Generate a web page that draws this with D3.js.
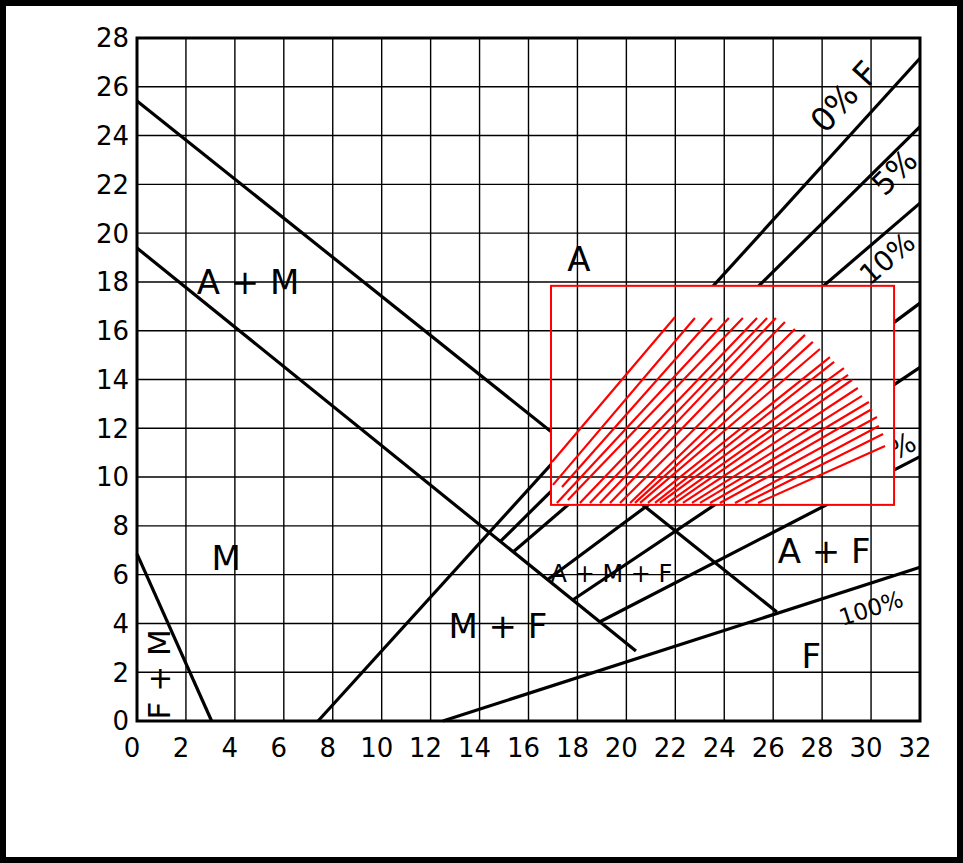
<!DOCTYPE html>
<html><head><meta charset="utf-8">
<script src="https://cdn.jsdelivr.net/npm/d3@7"></script>
<style>html,body{margin:0;padding:0;background:#fff;} svg{display:block;}</style>
</head><body>
<svg id="chart" width="963" height="863"></svg>
<script>
// ---- data ----
const xTicks = [0,2,4,6,8,10,12,14,16,18,20,22,24,26,28,30,32];
const yTicks = [0,2,4,6,8,10,12,14,16,18,20,22,24,26,28];

const lineNames = ["A+M / A upper", "M / M+F", "F+M", "0% F", "5%", "10%", "20%", "40%", "80%", "100%"];
const lineX1 = [0,     0,     0,    7.40, 14.83, 15.37, 16.76, 17.82, 18.92, 12.50];
const lineY1 = [25.42, 19.39, 6.85, 0,    7.34,  6.93,  5.78,  4.97,  4.07,  0];
const lineX2 = [26.15, 20.39, 3.05, 32,   32,    32,    32,    32,    32,    32];
const lineY2 = [4.47,  2.87,  0,    27.17,24.37, 21.23, 17.13, 14.50, 10.84, 6.30];

const regionText = ["A + M", "A", "M", "M + F", "A + M + F", "A + F", "F", "F + M"];
const regionX    = [4.54,  18.06, 3.64, 14.75, 19.39, 28.08, 27.56, 1.35];
const regionY    = [17.51, 18.45, 6.19, 3.40,  5.70,  6.48,  2.17,  1.91];

const pctText = ["0% F", "5%", "10%", "80%", "100%"];
const pctLine = [3, 4, 5, 8, 9];
const pctX    = [28.89, 30.94, 30.65, 30.61, 30.00];
const pctY    = [25.60, 22.51, 18.98, 10.95, 4.63];

const boxX = [16.92, 30.94];
const boxY = [8.86, 17.84];

const hatchX1 = [16.96,17.00,17.37,17.16,17.61,18.10,18.51,18.92,19.33,19.74,20.15,20.35,20.56,20.88,21.17,21.37,21.70,21.99,22.31,22.68,23.01,23.42,23.82,24.44,24.85,25.38];
const hatchY1 = [10.62,9.68,9.59,8.94,9.06,8.94,8.94,8.94,8.94,8.94,8.94,8.94,8.94,8.94,8.94,8.94,8.94,8.94,8.94,8.94,8.94,8.94,8.94,8.94,8.94,8.94];
const hatchX2 = [21.99,22.80,23.50,24.19,24.76,25.34,25.75,26.11,26.48,26.89,27.30,27.62,27.91,28.32,28.49,28.89,29.06,29.22,29.46,29.63,29.91,30.04,30.24,30.32,30.49,30.57];
const hatchY2 = [16.56,16.52,16.52,16.52,16.52,16.52,16.52,16.52,16.36,16.07,15.83,15.54,15.25,14.92,14.72,14.47,14.19,13.98,13.65,13.33,13.08,12.79,12.46,12.09,11.77,11.27];

// ---- layout ----
const W = 963, H = 863;
const x = d3.scaleLinear().domain([0, 32]).range([137, 920]);
const y = d3.scaleLinear().domain([0, 28]).range([721, 38]);
const FONT = "DejaVu Sans, Verdana, sans-serif";

const svg = d3.select("#chart");
svg.append("rect").attr("x",0).attr("y",0).attr("width",W).attr("height",H).attr("fill","#fff");

function drawGrid(g) {
  g.selectAll("line.v").data(xTicks).join("line").attr("class","v")
    .attr("x1", d => x(d)).attr("x2", d => x(d)).attr("y1", y(0)).attr("y2", y(28))
    .attr("stroke", "#000").attr("stroke-width", 1.4);
  g.selectAll("line.h").data(yTicks).join("line").attr("class","h")
    .attr("y1", d => y(d)).attr("y2", d => y(d)).attr("x1", x(0)).attr("x2", x(32))
    .attr("stroke", "#000").attr("stroke-width", 1.4);
}

drawGrid(svg.append("g"));

// boundary lines
const lineIdx = d3.range(lineNames.length);
svg.append("g").selectAll("line").data(lineIdx).join("line")
  .attr("x1", i => x(lineX1[i])).attr("y1", i => y(lineY1[i]))
  .attr("x2", i => x(lineX2[i])).attr("y2", i => y(lineY2[i]))
  .attr("stroke", "#000").attr("stroke-width", 3.2).attr("stroke-linecap", "butt");

// percentage labels
const pctSize = [33, 31, 28, 28, 23];
svg.append("g").selectAll("text").data(d3.range(pctText.length)).join("text")
  .attr("transform", i => {
    const li = pctLine[i];
    const ang = Math.atan2(y(lineY2[li]) - y(lineY1[li]), x(lineX2[li]) - x(lineX1[li])) * 180 / Math.PI;
    return `translate(${x(pctX[i])},${y(pctY[i])}) rotate(${ang})`;
  })
  .attr("text-anchor", "middle").attr("dy", "0.36em")
  .attr("font-family", FONT).attr("font-size", i => pctSize[i]).attr("fill", "#000")
  .text(i => pctText[i]);

// region labels
const regSize = [34, 34, 34, 34, 24, 34, 34, 31];
svg.append("g").selectAll("text").data(d3.range(regionText.length)).join("text")
  .attr("transform", i => `translate(${x(regionX[i])},${y(regionY[i])})` + (regionText[i] === "F + M" ? " rotate(-90)" : ""))
  .attr("text-anchor", "middle")
  .attr("font-family", FONT).attr("font-size", i => regSize[i]).attr("fill", "#000")
  .text(i => regionText[i]);

// red overlay box
const bx = x(boxX[0]), by = y(boxY[1]), bw = x(boxX[1]) - x(boxX[0]), bh = y(boxY[0]) - y(boxY[1]);
svg.append("rect").attr("x", bx).attr("y", by).attr("width", bw).attr("height", bh)
  .attr("fill", "#fff");
svg.append("clipPath").attr("id", "boxclip").append("rect")
  .attr("x", bx).attr("y", by).attr("width", bw).attr("height", bh);
drawGrid(svg.append("g").attr("clip-path", "url(#boxclip)"));
svg.append("rect").attr("x", bx).attr("y", by).attr("width", bw).attr("height", bh)
  .attr("fill", "none").attr("stroke", "#ff0000").attr("stroke-width", 2);

// hatch
svg.append("g").selectAll("line").data(d3.range(hatchX1.length)).join("line")
  .attr("x1", i => x(hatchX1[i])).attr("y1", i => y(hatchY1[i]))
  .attr("x2", i => x(hatchX2[i])).attr("y2", i => y(hatchY2[i]))
  .attr("stroke", "#ff0000").attr("stroke-width", 2.2);

// plot frame
svg.append("rect").attr("x", x(0)).attr("y", y(28)).attr("width", x(32) - x(0)).attr("height", y(0) - y(28))
  .attr("fill", "none").attr("stroke", "#000").attr("stroke-width", 3);

// tick labels
svg.append("g").selectAll("text").data(xTicks).join("text")
  .attr("x", d => x(d) - 5).attr("y", 757)
  .attr("text-anchor", "middle").attr("font-family", FONT).attr("font-size", 26)
  .text(d => d);
svg.append("g").selectAll("text").data(yTicks).join("text")
  .attr("x", 129).attr("y", d => y(d)).attr("dy", "0.36em")
  .attr("text-anchor", "end").attr("font-family", FONT).attr("font-size", 26)
  .text(d => d);

// outer frame
svg.append("rect").attr("x", 0).attr("y", 0).attr("width", W).attr("height", H)
  .attr("fill", "none").attr("stroke", "#000").attr("stroke-width", 12);
</script>
</body></html>
